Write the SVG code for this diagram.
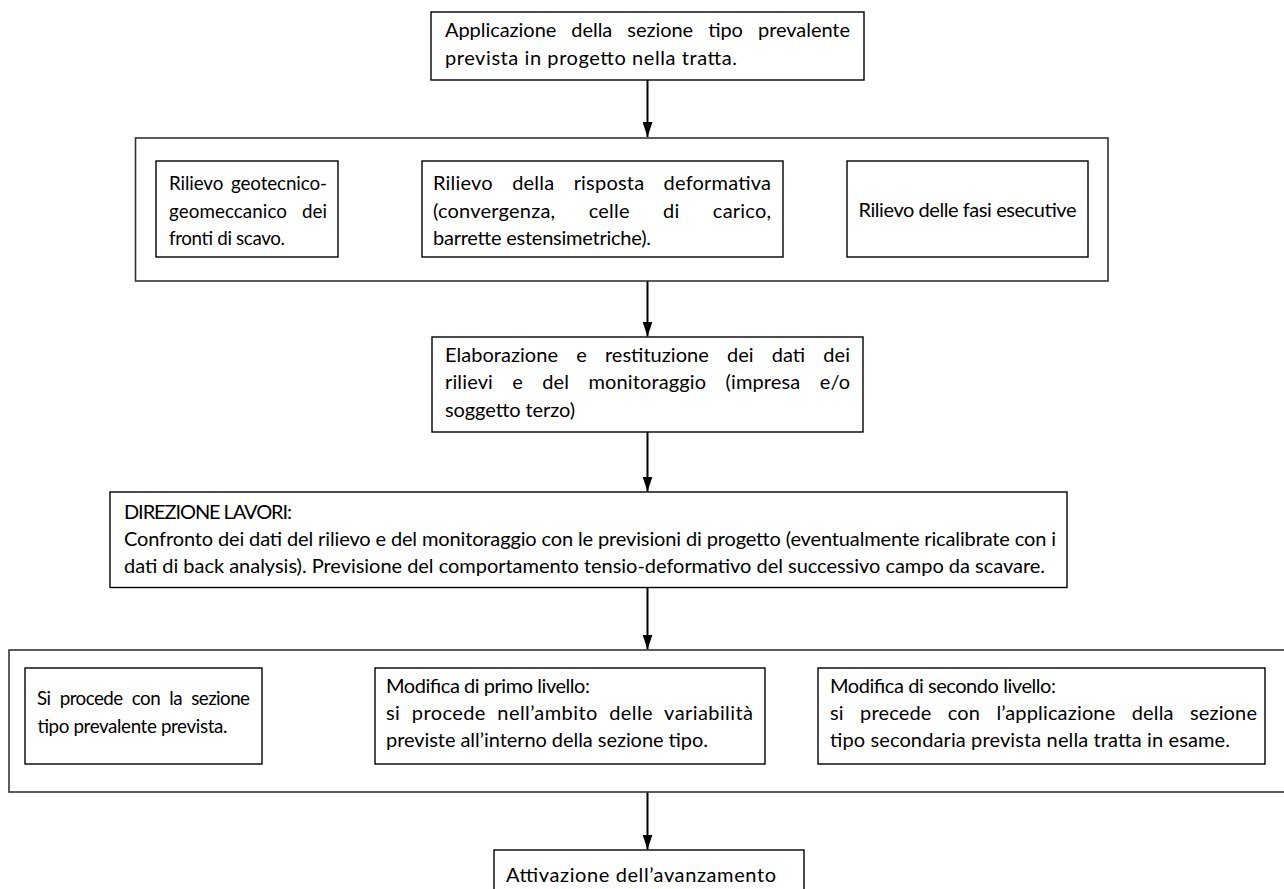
<svg xmlns="http://www.w3.org/2000/svg" width="1284" height="889" viewBox="0 0 1284 889">
<style>
.box{fill:#fff;stroke:#000;stroke-width:1.4}
.outer{fill:none;stroke:#333;stroke-width:1.6}
text{font-family:Lato,"Liberation Sans",sans-serif;font-size:20px;fill:#000}
.sm{font-size:18.8px}
.conn{stroke:#000;stroke-width:2;fill:none;marker-end:url(#ah)}
</style>
<defs>
<marker id="ah" viewBox="0 0 15 10" markerWidth="15" markerHeight="10" refX="15" refY="5" orient="auto" markerUnits="userSpaceOnUse">
<path d="M0,0 L15,5 L0,10 z" fill="#000"/>
</marker>
</defs>
<rect width="1284" height="889" fill="#fff"/>

<g id="connectors">
<path class="conn" d="M647.5,80 V137"/>
<path class="conn" d="M647.5,281 V336.5"/>
<path class="conn" d="M647.5,432 V491.5"/>
<path class="conn" d="M647.5,587.5 V649.5"/>
<path class="conn" d="M647.5,792 V849.5"/>
</g>

<g id="n1">
<rect class="box" x="431" y="12" width="433" height="68"/>
<text x="445" y="37" textLength="405" word-spacing="10">Applicazione della sezione tipo prevalente</text>
<text x="445" y="65" textLength="292">prevista in progetto nella tratta.</text>
</g>

<g id="n2">
<rect class="outer" x="135.5" y="138" width="972.5" height="143"/>
</g>
<g id="n2a">
<rect class="box" x="156" y="161" width="182" height="96"/>
<text class="sm" x="169" y="190" textLength="158" word-spacing="3">Rilievo geotecnico-</text>
<text class="sm" x="169" y="217.5" textLength="158" word-spacing="10">geomeccanico dei</text>
<text class="sm" x="169" y="245" textLength="116">fronti di scavo.</text>
</g>
<g id="n2b">
<rect class="box" x="422" y="161" width="361" height="96"/>
<text x="433" y="190" textLength="338" word-spacing="14">Rilievo della risposta deformativa</text>
<text x="433" y="217.5" textLength="338" word-spacing="28">(convergenza, celle di carico,</text>
<text x="433" y="245" textLength="218">barrette estensimetriche).</text>
</g>
<g id="n2c">
<rect class="box" x="847" y="161" width="241" height="96"/>
<text x="967.5" y="217" text-anchor="middle" textLength="218">Rilievo delle fasi esecutive</text>
</g>

<g id="n3">
<rect class="box" x="432" y="337" width="431" height="95"/>
<text x="445" y="362" textLength="405" word-spacing="13">Elaborazione e restituzione dei dati dei</text>
<text x="445" y="389" textLength="405" word-spacing="14">rilievi e del monitoraggio (impresa e/o</text>
<text x="445" y="416.5" textLength="130">soggetto terzo)</text>
</g>

<g id="n4">
<rect class="box" x="110" y="492" width="957" height="95.5"/>
<text x="124" y="519" textLength="168">DIREZIONE LAVORI:</text>
<text x="124" y="546" textLength="932" word-spacing="0">Confronto dei dati del rilievo e del monitoraggio con le previsioni di progetto (eventualmente ricalibrate con i</text>
<text x="124" y="573" textLength="921">dati di back analysis). Previsione del comportamento tensio-deformativo del successivo campo da scavare.</text>
</g>

<g id="n5">
<rect class="outer" x="9" y="650" width="1290" height="142"/>
</g>
<g id="n5a">
<rect class="box" x="25" y="668" width="237" height="96"/>
<text class="sm" x="37" y="705" textLength="213" word-spacing="5">Si procede con la sezione</text>
<text class="sm" x="37" y="733" textLength="190">tipo prevalente prevista.</text>
</g>
<g id="n5b">
<rect class="box" x="375" y="668" width="390" height="96"/>
<text x="386" y="693" textLength="204">Modifica di primo livello:</text>
<text x="386" y="720" textLength="367" word-spacing="6">si procede nell’ambito delle variabilità</text>
<text x="386" y="747" textLength="322">previste all’interno della sezione tipo.</text>
</g>
<g id="n5c">
<rect class="box" x="818" y="668" width="447" height="96"/>
<text x="830" y="693" textLength="226">Modifica di secondo livello:</text>
<text x="830" y="720" textLength="427" word-spacing="11">si precede con l’applicazione della sezione</text>
<text x="830" y="747" textLength="400">tipo secondaria prevista nella tratta in esame.</text>
</g>

<g id="n6">
<rect class="box" x="494" y="850" width="310" height="60"/>
<text x="506" y="882" textLength="270">Attivazione dell’avanzamento</text>
</g>
</svg>
